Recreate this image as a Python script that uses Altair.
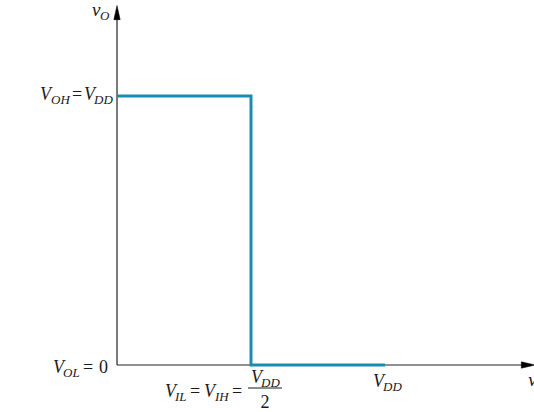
import altair as alt
import pandas as pd

# Ideal inverter voltage transfer characteristic (in units of V_DD)
vi = [0.0, 0.5, 0.5, 1.0]
vo = [1.0, 1.0, 0.0, 0.0]

# Axis extents (arrow tips), in the same units
x_axis_end = 1.535
y_axis_end = 1.31

W, H = 534, 412
XDOM = [-0.4366, 1.5560]
YDOM = [-0.1747, 1.3569]

BLUE = "#1a8bb3"
INK = "#222222"
TXT = "#1a1a1a"
FONT = "Liberation Serif"
MAIN = 18
SUB = 13

xs = alt.Scale(domain=XDOM, nice=False, zero=False)
ys = alt.Scale(domain=YDOM, nice=False, zero=False)


def enc_xy():
    return dict(x=alt.X("x:Q", scale=xs, axis=None), y=alt.Y("y:Q", scale=ys, axis=None))


curve = alt.Chart(pd.DataFrame({"x": vi, "y": vo, "i": range(len(vi))})).mark_line(
    color=BLUE, strokeWidth=3, strokeJoin="miter", strokeCap="butt"
).encode(order="i:Q", **enc_xy())

x_axis = alt.Chart(pd.DataFrame({"x": [0.0], "x2": [x_axis_end], "y": [0.0]})).mark_rule(
    color=INK, strokeWidth=1.2
).encode(x2="x2:Q", **enc_xy())

y_axis = alt.Chart(pd.DataFrame({"x": [0.0], "y": [0.0], "y2": [y_axis_end]})).mark_rule(
    color=INK, strokeWidth=1.2
).encode(y2="y2:Q", **enc_xy())

# slender arrowheads
arrow_up = "M0,-1L0.45,1L-0.45,1Z"
arrow_right = "M1,0L-1,0.45L-1,-0.45Z"

arrow_x = alt.Chart(pd.DataFrame({"x": [x_axis_end], "y": [0.0]})).mark_point(
    shape=arrow_right, filled=True, fill="#000000", stroke="#000000", size=200, opacity=1, strokeWidth=0.5
).encode(**enc_xy())

arrow_y = alt.Chart(pd.DataFrame({"x": [0.0], "y": [y_axis_end]})).mark_point(
    shape=arrow_up, filled=True, fill="#000000", stroke="#000000", size=200, opacity=1, strokeWidth=0.5
).encode(**enc_xy())


def label(text, ax, ay, dx, dy, size=MAIN, italic=True, align="left"):
    return alt.Chart(pd.DataFrame({"x": [ax], "y": [ay], "t": [text]})).mark_text(
        font=FONT, fontSize=size, fontStyle="italic" if italic else "normal",
        align=align, baseline="alphabetic", dx=dx, dy=dy, color=TXT
    ).encode(text="t:N", **enc_xy())


labels = [
    # v_O on the vertical axis
    label("v", 0.0, y_axis_end, -25, 3, size=19),
    label("O", 0.0, y_axis_end, -17, 7, size=SUB),
    # V_OH = V_DD
    label("V", 0.0, 1.0, -77, 4),
    label("OH", 0.0, 1.0, -66, 8, size=SUB),
    label("=", 0.0, 1.0, -45, 4, italic=False),
    label("V", 0.0, 1.0, -33, 4),
    label("DD", 0.0, 1.0, -23, 8, size=SUB),
    # V_OL = 0
    label("V", 0.0, 0.0, -64, 8),
    label("OL", 0.0, 0.0, -54, 12, size=SUB),
    label("=", 0.0, 0.0, -34, 8, italic=False),
    label("0", 0.0, 0.0, -18, 8, italic=False),
    # V_IL = V_IH = V_DD / 2
    label("V", 0.5, 0.0, -86, 32),
    label("IL", 0.5, 0.0, -76, 36, size=SUB),
    label("=", 0.5, 0.0, -61, 32, italic=False),
    label("V", 0.5, 0.0, -47, 32),
    label("IH", 0.5, 0.0, -36, 36, size=SUB),
    label("=", 0.5, 0.0, -19, 32, italic=False),
    label("V", 0.5, 0.0, 0, 18),
    label("DD", 0.5, 0.0, 10, 22, size=SUB),
    label("2", 0.5, 0.0, 14, 43, italic=False, align="center"),
    # V_DD on the horizontal axis
    label("V", 1.0, 0.0, -12, 22),
    label("DD", 1.0, 0.0, -2, 26, size=SUB),
    # v_I on the horizontal axis
    label("v", x_axis_end, 0.0, 0, 21, size=19),
]

frac_bar = alt.Chart(pd.DataFrame({"x": [0.5], "x2": [0.5], "y": [0.0]})).mark_rule(
    color=TXT, strokeWidth=1, xOffset=-3, x2Offset=31, yOffset=23
).encode(x2="x2:Q", **enc_xy())

chart = alt.layer(x_axis, y_axis, arrow_x, arrow_y, curve, frac_bar, *labels).properties(
    width=W, height=H, padding=0, autosize=alt.AutoSizeParams(type="none"),
    background="#ffffff"
).configure_view(stroke=None)

chart.save("out.html", embed_options={"renderer": "svg", "actions": False})
